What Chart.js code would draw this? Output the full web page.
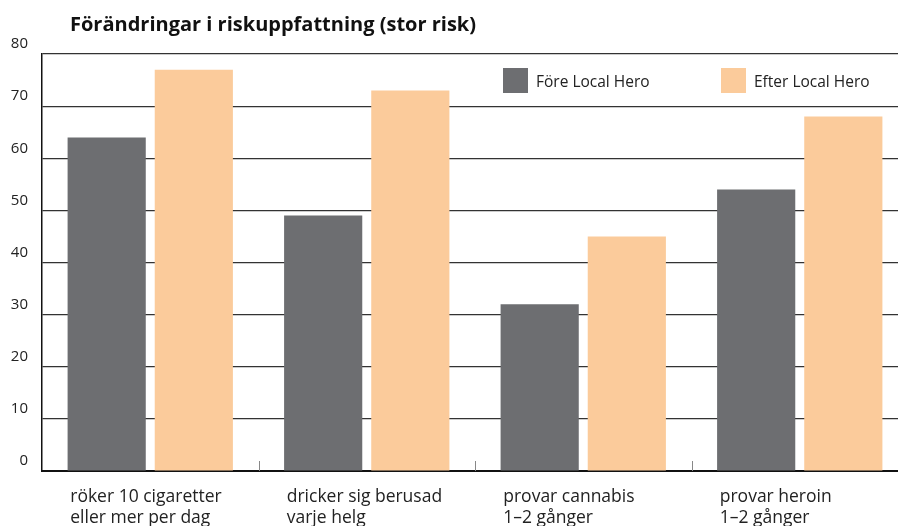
<!DOCTYPE html>
<html>
<head>
<meta charset="utf-8">
<script src="https://cdn.jsdelivr.net/npm/chart.js@4"></script>
<style>
    html, body { margin: 0; padding: 0; background: #fff; overflow: hidden; width: 898px; height: 526px; }
    #wrap { position: relative; width: 908px; height: 526px; }
    #title { position: absolute; left: 70px; top: 10px; font: bold 20px 'Open Sans', sans-serif; color: #111; }
    .leg { position: absolute; top: 68px; font: 15.5px 'Open Sans', sans-serif; color: #222; line-height: 27px; }
    .leg span { display: inline-block; width: 25px; height: 25px; vertical-align: top; margin-right: 8px; }
</style>
</head>
<body>
<div id="wrap">
    <canvas id="myChart" width="908" height="526"></canvas>
    <div id="title">Förändringar i riskuppfattning (stor risk)</div>
    <div class="leg" id="leg0" style="left:503px"></div>
    <div class="leg" id="leg1" style="left:721px"></div>
</div>
<script>
// data
const categories = [
    ['röker 10 cigaretter', 'eller mer per dag'],
    ['dricker sig berusad', 'varje helg'],
    ['provar cannabis', '1–2 gånger'],
    ['provar heroin', '1–2 gånger']
];
const seriesNames = ['Före Local Hero', 'Efter Local Hero'];
const fore = [64, 49, 32, 54];
const efter = [77, 73, 45, 68];
const yTicks = [0, 10, 20, 30, 40, 50, 60, 70, 80];

const colors = ['#6d6e71', '#fbcb9b'];

// legenda (html)
seriesNames.forEach(function (name, i) {
    const el = document.getElementById('leg' + i);
    el.innerHTML = '<span style="background:' + colors[i] + '"></span>' + name;
});

// små streck mellan kategorierna
const catTicks = {
    id: 'catTicks',
    afterDatasetsDraw(chart) {
        const x = chart.scales.x, y = chart.scales.y;
        const c = chart.ctx;
        c.save();
        c.strokeStyle = '#888';
        c.lineWidth = 1;
        for (let i = 1; i < categories.length; i++) {
            const px = Math.round((x.getPixelForValue(i - 1) + x.getPixelForValue(i)) / 2) + 0.5;
            c.beginPath();
            c.moveTo(px, y.bottom - 10);
            c.lineTo(px, y.bottom);
            c.stroke();
        }
        c.restore();
    }
};

const ctx = document.getElementById('myChart').getContext('2d');
const myChart = new Chart(ctx, {
    type: 'bar',
    data: {
        labels: categories,
        datasets: [{
            label: seriesNames[0],
            data: fore,
            backgroundColor: colors[0],
            categoryPercentage: 0.805,
            barPercentage: 0.897
        }, {
            label: seriesNames[1],
            data: efter,
            backgroundColor: colors[1],
            categoryPercentage: 0.805,
            barPercentage: 0.897
        }]
    },
    plugins: [catTicks],
    options: {
        responsive: false,
        animation: false,
        layout: { padding: { top: 54, left: 0, right: 0, bottom: 0 } },
        scales: {
            x: {
                grid: { display: false },
                border: { display: true, color: '#111', width: 2 },
                ticks: {
                    align: 'start',
                    labelOffset: -80,
                    padding: 8,
                    maxRotation: 0,
                    autoSkip: false,
                    color: '#222',
                    font: { family: 'Open Sans', size: 17.5 }
                },
                afterFit: function (s) {
                    s.height = 55;
                    s.paddingLeft = 0;
                    s.paddingRight = 0;
                }
            },
            y: {
                min: 0,
                max: 80,
                afterBuildTicks: function (s) { s.ticks = yTicks.map(v => ({ value: v })); },
                grid: { color: '#333', lineWidth: 1.2, drawTicks: false },
                border: { display: true, color: '#111', width: 1.5 },
                ticks: {
                    labelOffset: -10,
                    padding: 14,
                    color: '#222',
                    font: { family: 'Open Sans', size: 15 }
                },
                afterFit: function (s) { s.width = 42; }
            }
        },
        plugins: {
            legend: { display: false },
            title: { display: false },
            tooltip: { enabled: false }
        }
    }
});
</script>
</body>
</html>
